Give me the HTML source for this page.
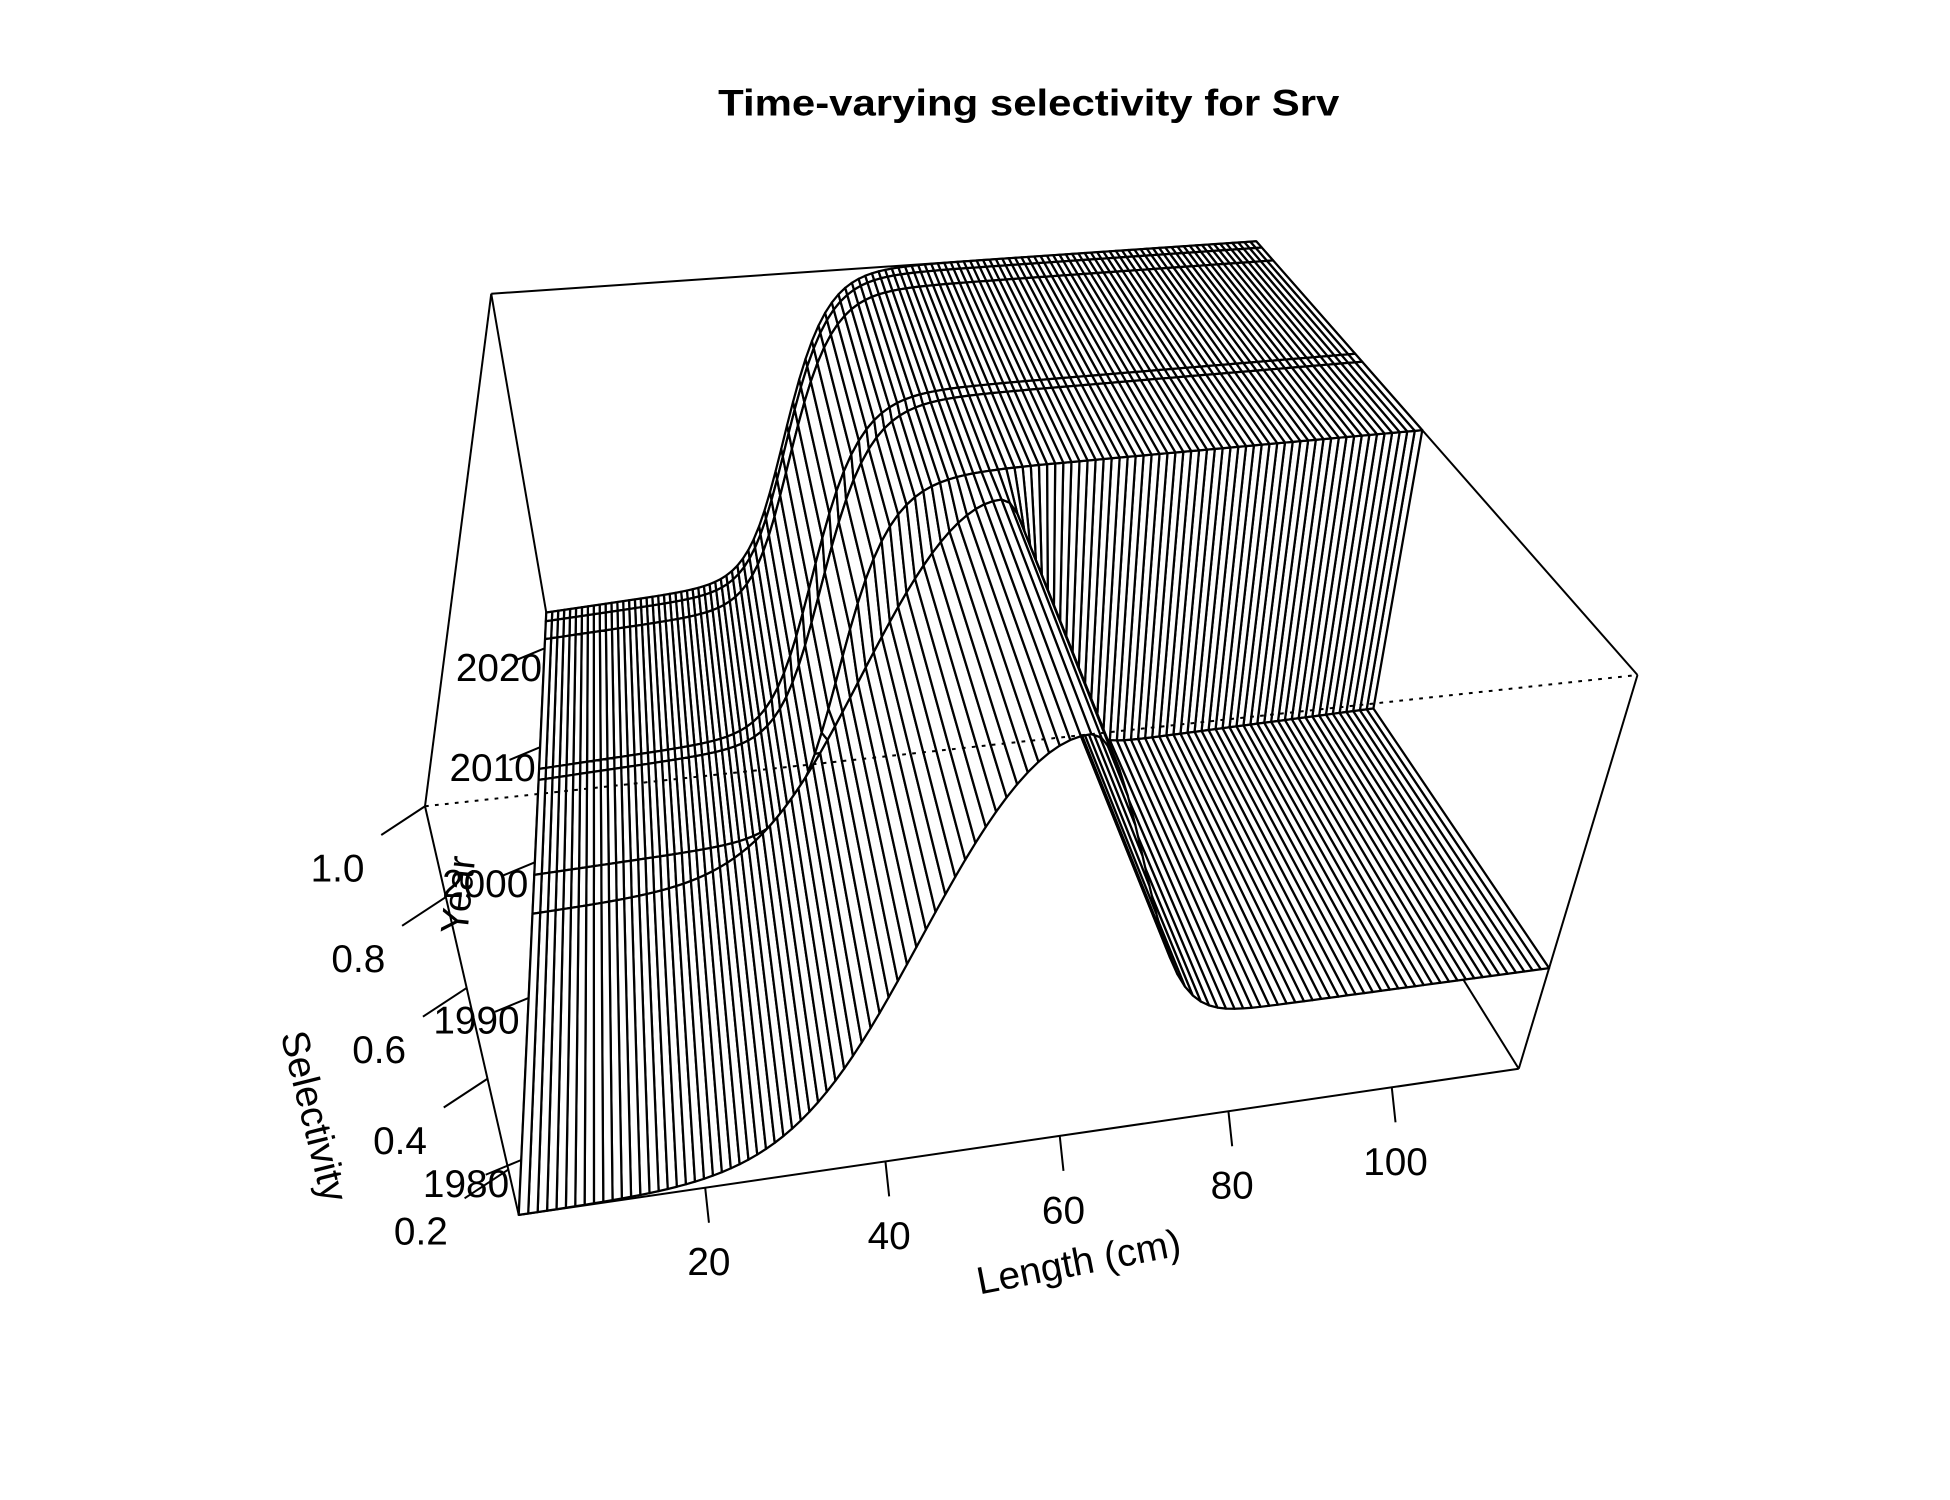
<!DOCTYPE html>
<html><head><meta charset="utf-8"><title>Time-varying selectivity for Srv</title>
<style>
html,body{margin:0;padding:0;background:#fff;}
svg{display:block;}
text{font-family:"Liberation Sans",Arial,sans-serif;fill:#000;}
</style></head>
<body>
<svg id="chart" xmlns="http://www.w3.org/2000/svg" width="1950" height="1500" viewBox="0 0 1560 1200">
<rect x="0" y="0" width="1560" height="1200" fill="#fff"/>
<text x="823" y="82" font-size="30" font-weight="bold" text-anchor="middle" dominant-baseline="central" textLength="497" lengthAdjust="spacingAndGlyphs">Time-varying selectivity for Srv</text>
<g id="backEdges"></g>
<g id="surface"></g>
<g id="frontEdges"></g>
<g id="axes"></g>
<text x="863" y="1010" font-size="31" text-anchor="middle" dominant-baseline="central" transform="rotate(-11 863 1010)">Length (cm)</text>
<text x="251" y="893" font-size="31" text-anchor="middle" dominant-baseline="central" transform="rotate(76 251 893)">Selectivity</text>
<text x="367" y="716" font-size="31" text-anchor="middle" dominant-baseline="central" transform="rotate(-84 367 716)">Year</text>
</svg>
<script>
// ---- data ----
const years = [1977, 1996, 1999, 2007, 2008, 2021, 2023, 2024];
const selType = ['dome', 'dome', 'asym', 'asym', 'asym', 'asym', 'asym', 'asym'];
const selPeak = [61, 61, 43, 43, 42, 42, 42, 42];      // dome peak length or asymptotic L50
const selWidth = [21, 21, 3.3, 3.3, 3.3, 3.3, 3.3, 3.3]; // ascending width
const selDescWidth = [8, 8, 0, 0, 0, 0, 0, 0];
const selFloor = [0.33, 0.33, 1, 1, 1, 1, 1, 1];
const selLow = [0.1, 0.1, 0.1, 0.1, 0.1, 0.1, 0.1, 0.1];
const lengthMin = 0, lengthMax = 116;
const xTicks = [20, 40, 60, 80, 100];
const yTicks = [1980, 1990, 2000, 2010, 2020];
const zTicks = [0.2, 0.4, 0.6, 0.8, 1.0];
const zTickLabels = ['0.2', '0.4', '0.6', '0.8', '1.0'];

const lengths = [];
for (let L = lengthMin; L <= lengthMax; L++) lengths.push(L);

function sel(r, x) {
  const lo = selLow[r];
  if (selType[r] === 'dome') {
    if (x <= selPeak[r]) return lo + (1 - lo) * Math.exp(-Math.pow((x - selPeak[r]) / selWidth[r], 2));
    return selFloor[r] + (1 - selFloor[r]) * Math.exp(-Math.pow((x - selPeak[r]) / selDescWidth[r], 2));
  }
  return lo + (1 - lo) / (1 + Math.exp(-(x - selPeak[r]) / selWidth[r]));
}

// ---- projection ----
const xlim = [lengthMin, lengthMax], ylim = [1977, 2024], zlim = [0.1, 1.0];
const C = {
  '000': [415, 972], '100': [1215, 855], '010': [437, 490], '110': [942, 416],
  '001': [340, 645], '101': [1310, 540], '011': [393, 235], '111': [1005, 193]
};
function warp(t, b) { return (1 + b) * t / (1 + b * t); }
function fx(x) { return warp((x - xlim[0]) / (xlim[1] - xlim[0]), 0.1); }
function fy(y) { return warp((y - ylim[0]) / (ylim[1] - ylim[0]), 0.473); }
function fz(z) { return (z - zlim[0]) / (zlim[1] - zlim[0]); }
function lerp(a, b, t) { return [a[0] + (b[0] - a[0]) * t, a[1] + (b[1] - a[1]) * t]; }
function projF(u, v, w) {
  const a = lerp(C['000'], C['100'], u), b = lerp(C['010'], C['110'], u);
  const c = lerp(C['001'], C['101'], u), d = lerp(C['011'], C['111'], u);
  return lerp(lerp(a, b, v), lerp(c, d, v), w);
}
function proj(x, y, z) { return projF(fx(x), fy(y), fz(z)); }

const NS = 'http://www.w3.org/2000/svg';
function mk(tag, attrs, parent) {
  const e = document.createElementNS(NS, tag);
  for (const k in attrs) e.setAttribute(k, attrs[k]);
  parent.appendChild(e);
  return e;
}
function line(p, q, parent, dash) {
  const e = mk('line', { x1: p[0], y1: p[1], x2: q[0], y2: q[1], stroke: '#000', 'stroke-width': 1.6 }, parent);
  if (dash) e.setAttribute('stroke-dasharray', '3 5');
  return e;
}

// ---- box back edges ----
const backG = document.getElementById('backEdges');
[['011','111'],['111','101'],['101','100'],['100','000'],['000','001'],['001','011'],['011','010'],['010','000'],['010','110'],['110','111'],['110','100']].forEach(function (e) {
  const l = line(C[e[0]], C[e[1]], backG, false);
  
  
});

// ---- surface ----
const surfG = document.getElementById('surface');
const facets = [];
for (let r = 0; r < years.length - 1; r++) {
  for (let i = 0; i < lengths.length - 1; i++) {
    const x0 = lengths[i], x1 = lengths[i + 1], y0 = years[r], y1 = years[r + 1];
    const z00 = sel(r, x0), z10 = sel(r, x1), z01 = sel(r + 1, x0), z11 = sel(r + 1, x1);
    const pts = [proj(x0, y0, z00), proj(x1, y0, z10), proj(x1, y1, z11), proj(x0, y1, z01)];
    const depth = (fy(y0) + fy(y1)) / 2 - 0.5 * fz((z00 + z10 + z01 + z11) / 4) + 0.1 * fx((x0 + x1) / 2);
    facets.push({ pts: pts, depth: depth, r: r, i: i });
  }
}
facets.sort(function (a, b) { return b.depth - a.depth; });
facets.forEach(function (f) {
  const p = mk('polygon', {
    points: f.pts.map(function (q) { return q[0].toFixed(2) + ',' + q[1].toFixed(2); }).join(' '),
    fill: '#fff', stroke: '#000', 'stroke-width': 1.8, 'stroke-linejoin': 'round'
  }, surfG);
  
  
});

// ---- front (dotted) edge ----
const frontG = document.getElementById('frontEdges');
const fe = line(C['001'], C['101'], frontG, true);



// ---- axes ----
const axG = document.getElementById('axes');
function label(txt, x, y, name) {
  const t = mk('text', { x: x, y: y, 'font-size': 31, 'text-anchor': 'middle', 'dominant-baseline': 'central' }, axG);
  t.textContent = txt;
  
  
}
xTicks.forEach(function (v) {
  const p = proj(v, ylim[0], zlim[0]);
  const tk = line(p, [p[0] + 3, p[1] + 28], axG, false);
  
  
  label(String(v), p[0] + 3, p[1] + 60, 'x-tick-label');
});
yTicks.forEach(function (v) {
  const p = proj(xlim[0], v, zlim[0]);
  const s = 1 - 0.2 * fy(v);
  const tk = line(p, [p[0] - 29 * s, p[1] + 12 * s], axG, false);
  
  
  label(String(v), p[0] - 45 * s, p[1] + 20 * s, 'y-tick-label');
});
zTicks.forEach(function (v, k) {
  const p = proj(xlim[0], ylim[0], v);
  const tk = line(p, [p[0] - 35, p[1] + 23], axG, false);
  
  
  label(zTickLabels[k], p[0] - 70, p[1] + 50, 'z-tick-label');
});
</script>
</body></html>
